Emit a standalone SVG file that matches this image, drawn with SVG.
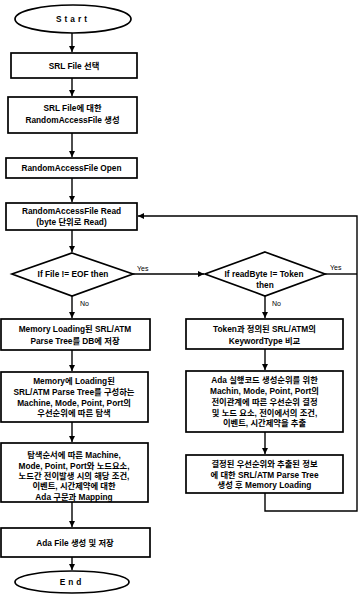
<svg xmlns="http://www.w3.org/2000/svg" width="360" height="602" viewBox="0 0 360 602">
<style>
.n{fill:#fff;stroke:#000;stroke-width:1.7}
.t{font-family:"Liberation Sans","Noto Sans CJK KR",sans-serif;font-weight:bold;font-size:8.3px;fill:#000;text-anchor:middle}
.s{font-family:"Liberation Sans",sans-serif;font-size:7px;fill:#000}
.c{fill:none;stroke:#000;stroke-width:1.4}
</style>
<defs>
<marker id="a" markerUnits="userSpaceOnUse" markerWidth="7" markerHeight="7" refX="6" refY="3" orient="auto">
<path d="M0,0 L6,3 L0,6 Z" fill="#000"/>
</marker>
</defs>
<rect width="360" height="602" fill="#fff"/>
<g id="connectors">
<path class="c" d="M72,33 V52" marker-end="url(#a)"/>
<path class="c" d="M72,78 V96" marker-end="url(#a)"/>
<path class="c" d="M72,133 V157" marker-end="url(#a)"/>
<path class="c" d="M72,178 V202" marker-end="url(#a)"/>
<path class="c" d="M72,230 V252" marker-end="url(#a)"/>
<path class="c" d="M72,296 V318" marker-end="url(#a)"/>
<path class="c" d="M72,350 V371" marker-end="url(#a)"/>
<path class="c" d="M72,422 V442" marker-end="url(#a)"/>
<path class="c" d="M72,502 V527" marker-end="url(#a)"/>
<path class="c" d="M72,557 V570" marker-end="url(#a)"/>
<path class="c" d="M133,274 H204" marker-end="url(#a)"/>
<path class="c" d="M265,296 V318" marker-end="url(#a)"/>
<path class="c" d="M265,349 V370" marker-end="url(#a)"/>
<path class="c" d="M265,432 V454" marker-end="url(#a)"/>
<path class="c" d="M265,493 V511 H357 V216 H138" marker-end="url(#a)"/>
<path class="c" d="M325,274 H357"/>
<text class="s" x="137" y="271">Yes</text>
<text class="s" x="80" y="306">No</text>
<text class="s" x="330" y="270">Yes</text>
<text class="s" x="272" y="306">No</text>
</g>
<g id="start">
<ellipse class="n" cx="73" cy="19" rx="58" ry="14"/>
<text class="t" x="73" y="22" letter-spacing="3">Start</text>
</g>
<g id="b1">
<rect class="n" x="11" y="53" width="126" height="25"/>
<text class="t" x="74" y="68.5">SRL File 선택</text>
</g>
<g id="b2">
<rect class="n" x="8" y="97" width="129" height="36"/>
<text class="t" x="72.5" y="111">SRL File에 대한</text>
<text class="t" x="72.5" y="123">RandomAccessFile 생성</text>
</g>
<g id="b3">
<rect class="n" x="6" y="158" width="131" height="20"/>
<text class="t" x="71.5" y="171">RandomAccessFile Open</text>
</g>
<g id="b4">
<rect class="n" x="6" y="203" width="131" height="27"/>
<text class="t" x="71.5" y="214">RandomAccessFile Read</text>
<text class="t" x="71.5" y="225">(byte 단위로 Read)</text>
</g>
<g id="d1">
<polygon class="n" points="72,253 133,274 72,296 12,274"/>
<text class="t" x="73" y="277">If File != EOF then</text>
</g>
<g id="d2">
<polygon class="n" points="265,252 325,274 265,296 205,274"/>
<text class="t" x="264" y="277">If readByte != Token</text>
<text class="t" x="265" y="288">then</text>
</g>
<g id="l1">
<rect class="n" x="1" y="319" width="149" height="31"/>
<text class="t" x="75" y="332">Memory Loading된 SRL/ATM</text>
<text class="t" x="75" y="344">Parse Tree를 DB에 저장</text>
</g>
<g id="l2">
<rect class="n" x="1" y="372" width="147" height="50"/>
<text class="t" x="74" y="384">Memory에 Loading된</text>
<text class="t" x="74" y="395">SRL/ATM Parse Tree를 구성하는</text>
<text class="t" x="74" y="406">Machine, Mode, Point, Port의</text>
<text class="t" x="74" y="416">우선순위에 따른 탐색</text>
</g>
<g id="l3">
<rect class="n" x="1" y="443" width="147" height="59"/>
<text class="t" x="74" y="458">탐색순서에 따른 Machine,</text>
<text class="t" x="74" y="469">Mode, Point, Port와 노드요소,</text>
<text class="t" x="74" y="479">노드간 전이발생 시의 해당 조건,</text>
<text class="t" x="74" y="489">이벤트, 시간제약에 대한</text>
<text class="t" x="74" y="500">Ada 구문과 Mapping</text>
</g>
<g id="l4">
<rect class="n" x="1" y="528" width="149" height="29"/>
<text class="t" x="75" y="545.5">Ada File 생성 및 저장</text>
</g>
<g id="end">
<ellipse class="n" cx="72" cy="582" rx="57" ry="11"/>
<text class="t" x="72" y="585" letter-spacing="3">End</text>
</g>
<g id="r1">
<rect class="n" x="186" y="319" width="157" height="30"/>
<text class="t" x="264.5" y="332">Token과 정의된 SRL/ATM의</text>
<text class="t" x="264.5" y="344">KeywordType 비교</text>
</g>
<g id="r2">
<rect class="n" x="186" y="371" width="157" height="61"/>
<text class="t" x="264.5" y="383">Ada 실행코드 생성순위를 위한</text>
<text class="t" x="264.5" y="394">Machin, Mode, Point, Port의</text>
<text class="t" x="264.5" y="405">전이관계에 따른 우선순위 결정</text>
<text class="t" x="264.5" y="416">및 노드 요소, 전이에서의 조건,</text>
<text class="t" x="264.5" y="426">이벤트, 시간제약을 추출</text>
</g>
<g id="r3">
<rect class="n" x="186" y="455" width="157" height="38"/>
<text class="t" x="264.5" y="467">결정된 우선순위와 추출된 정보</text>
<text class="t" x="264.5" y="477.5">에 대한 SRL/ATM Parse Tree</text>
<text class="t" x="264.5" y="488">생성 후 Memory Loading</text>
</g>
</svg>
